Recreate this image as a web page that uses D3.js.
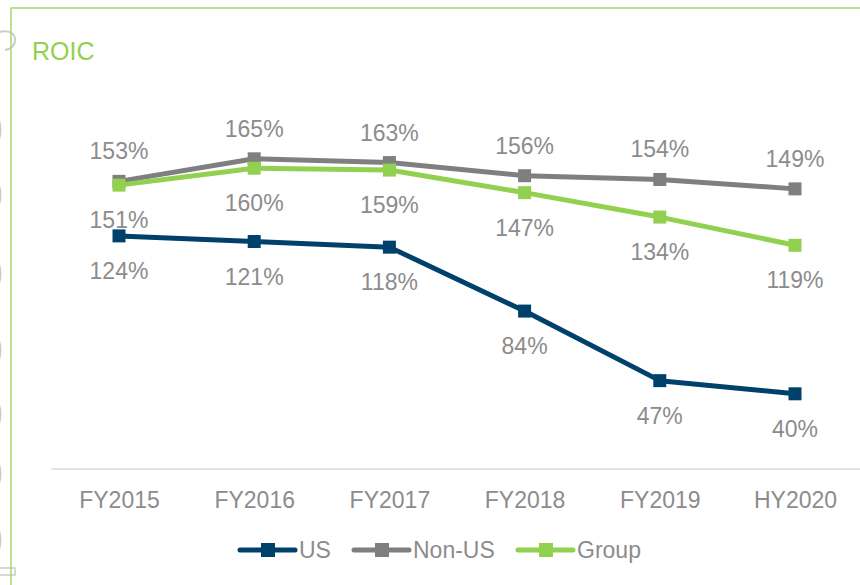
<!DOCTYPE html>
<html>
<head>
<meta charset="utf-8">
<script src="https://cdn.jsdelivr.net/npm/d3@7"></script>
<style>
  body { margin: 0; background: #fff; }
  svg { display: block; font-family: "Liberation Sans", Arial, sans-serif; }
</style>
</head>
<body>
<svg id="chart"></svg>
<script>
const categories = ['FY2015', 'FY2016', 'FY2017', 'FY2018', 'FY2019', 'HY2020'];
const usValues = [124, 121, 118, 84, 47, 40];
const nonUsValues = [153, 165, 163, 156, 154, 149];
const groupValues = [151, 160, 159, 147, 134, 119];

const seriesList = [
  { name: 'US', values: usValues, color: '#00416b', labelDy: 35 },
  { name: 'Non-US', values: nonUsValues, color: '#7f7f7f', labelDy: -30 },
  { name: 'Group', values: groupValues, color: '#92d050', labelDy: 35 }
];

const width = 860,
      height = 585;

const svg = d3.select('#chart')
  .attr('width', width)
  .attr('height', height);

// binder rings on the left edge
const deco = svg.append('g')
  .attr('fill', 'none')
  .attr('stroke', '#cccccc')
  .attr('stroke-width', 2);

deco.append('path')
  .attr('d', 'M-2,32 Q13,29 15,38 Q16,48 5,50');
[118, 183, 262, 338, 402, 462, 528].forEach(function(y) {
  deco.append('path').attr('d', `M-2,${y} Q3,${y + 12} -2,${y + 24}`);
});
deco.append('rect')
  .attr('x', -2).attr('y', 568).attr('width', 17).attr('height', 7)
  .attr('stroke-width', 1.5);

// green frame
svg.append('path')
  .attr('d', `M11,${height} L11,8 L${width},8`)
  .attr('fill', 'none')
  .attr('stroke', '#a6d96a')
  .attr('stroke-width', 1.5);

svg.append('text')
  .attr('x', 32)
  .attr('y', 60)
  .attr('fill', '#92d050')
  .attr('font-size', 25)
  .text('ROIC');

const x = d3.scalePoint()
  .domain(categories)
  .range([51.4, 862.6])
  .padding(0.5);

const y = d3.scaleLinear()
  .domain([0, 200])
  .range([469, 93]);

// category axis
const xAxis = svg.append('g')
  .attr('transform', `translate(0, ${y(0)})`)
  .call(d3.axisBottom(x).tickSize(0).tickPadding(23));

xAxis.select('.domain')
  .attr('stroke', '#d9d9d9')
  .attr('stroke-width', 1.5)
  .attr('d', `M51.4,0H${width}`);

xAxis.selectAll('text')
  .attr('fill', '#8c8c8c')
  .attr('font-size', 23)
  .attr('font-family', '"Liberation Sans", Arial, sans-serif');

const line = d3.line()
  .x((d, i) => x(categories[i]))
  .y(d => y(d));

const groups = svg.selectAll('g.series')
  .data(seriesList)
  .enter()
  .append('g')
  .attr('class', 'series');

groups.append('path')
  .attr('d', s => line(s.values))
  .attr('fill', 'none')
  .attr('stroke', s => s.color)
  .attr('stroke-width', 5)
  .attr('stroke-linejoin', 'round');

groups.selectAll('rect')
  .data(s => s.values.map((v, i) => ({ v: v, i: i, color: s.color })))
  .enter()
  .append('rect')
  .attr('x', d => x(categories[d.i]) - 6.5)
  .attr('y', d => y(d.v) - 6.5)
  .attr('width', 13)
  .attr('height', 13)
  .attr('fill', d => d.color);

groups.selectAll('text')
  .data(s => s.values.map((v, i) => ({ v: v, i: i, dy: s.labelDy })))
  .enter()
  .append('text')
  .attr('x', d => x(categories[d.i]))
  .attr('y', d => y(d.v) + d.dy + 8)
  .attr('text-anchor', 'middle')
  .attr('fill', '#8c8c8c')
  .attr('font-size', 23)
  .text(d => d.v + '%');

// legend
const legendX = [240, 354, 518];
const legend = svg.selectAll('g.legend')
  .data(seriesList)
  .enter()
  .append('g')
  .attr('class', 'legend')
  .attr('transform', (s, i) => `translate(${legendX[i]}, 550)`);

legend.append('line')
  .attr('x1', 0).attr('x2', 55)
  .attr('stroke', s => s.color)
  .attr('stroke-width', 5)
  .attr('stroke-linecap', 'round');

legend.append('rect')
  .attr('x', 21).attr('y', -7)
  .attr('width', 14).attr('height', 14)
  .attr('fill', s => s.color);

legend.append('text')
  .attr('x', 59)
  .attr('y', 8)
  .attr('fill', '#8c8c8c')
  .attr('font-size', 23)
  .text(s => s.name);
</script>
</body>
</html>
